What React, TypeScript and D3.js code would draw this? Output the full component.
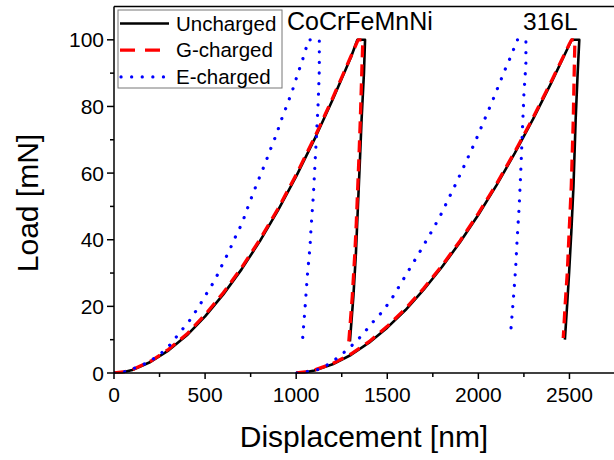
import React from "react";
import * as d3 from "d3";

// ---- Data (displacement in nm, load in mN) ----
const seriesNames = ["Uncharged", "G-charged", "E-charged"];
const seriesColors = ["#000000", "#ff0000", "#0000ff"];
const materialLabels = ["CoCrFeMnNi", "316L"];
const xTickValues = [0, 500, 1000, 1500, 2000, 2500];
const yTickValues = [0, 20, 40, 60, 80, 100];

// Uncharged – CoCrFeMnNi
const unchargedCoCrDisp = [0, 50, 100, 200, 300, 400, 500, 600, 700, 800, 900, 1000, 1100, 1200, 1300, 1336, 1378, 1372, 1359, 1350, 1335, 1328, 1314, 1295];
const unchargedCoCrLoad = [0, 0.2, 0.9, 3.3, 6.8, 11.3, 17.0, 23.6, 31.1, 39.5, 48.8, 59.0, 70.1, 82.0, 94.7, 100, 100, 90, 76, 64, 45, 36, 23, 9.5];
// G-charged – CoCrFeMnNi
const gChargedCoCrDisp = [0, 50, 100, 200, 300, 400, 500, 600, 700, 800, 900, 1000, 1100, 1200, 1300, 1340, 1366, 1360, 1352, 1344, 1330, 1322, 1308, 1289];
const gChargedCoCrLoad = [0, 0.3, 1.0, 3.5, 7.1, 11.7, 17.5, 24.1, 31.6, 40.0, 49.3, 59.5, 70.6, 82.5, 95.0, 100, 100, 90, 76, 64, 45, 36, 23, 9.5];
// E-charged – CoCrFeMnNi
const eChargedCoCrDisp = [0, 60, 121, 183, 249, 307, 362, 417, 463, 509, 554, 593, 630, 666, 704, 733, 764, 797, 829, 860, 892, 920, 951, 980, 1007, 1035, 1060, 1068, 1127, 1127, 1121, 1112, 1103, 1094, 1081, 1076, 1061, 1048, 1035];
const eChargedCoCrLoad = [0, 0.4, 1.6, 3.1, 5.4, 8.4, 12.2, 15.9, 19.7, 23.9, 27.9, 32.4, 36.4, 40.8, 45.1, 49.5, 54, 58.5, 62.8, 67.3, 71.7, 76.2, 80.6, 84.9, 89.5, 94, 98.5, 100, 100, 91, 81.5, 72, 62.5, 53, 43, 38, 29, 19, 10];

// Uncharged – 316L
const uncharged316Disp = [1000, 1050, 1100, 1200, 1300, 1400, 1500, 1600, 1700, 1800, 1900, 2000, 2100, 2200, 2300, 2400, 2500, 2512, 2554, 2545, 2534, 2522, 2510, 2498, 2488, 2475];
const uncharged316Load = [0, 0.2, 0.75, 2.6, 5.4, 9.1, 13.6, 18.9, 25.0, 31.8, 39.3, 47.5, 56.4, 66.0, 76.2, 87.1, 98.6, 100, 100, 90, 76, 56, 42, 30, 21, 10];
// G-charged – 316L
const gCharged316Disp = [1000, 1050, 1100, 1200, 1300, 1400, 1500, 1600, 1700, 1800, 1900, 2000, 2100, 2200, 2300, 2400, 2500, 2512, 2530, 2526, 2521, 2510, 2498, 2488, 2477, 2466];
const gCharged316Load = [0, 0.3, 0.9, 2.8, 5.7, 9.4, 14.0, 19.3, 25.4, 32.2, 39.7, 47.9, 56.8, 66.4, 76.6, 87.5, 98.8, 100, 100, 90, 76, 56, 42, 30, 21, 10.5];
// E-charged – 316L
const eCharged316Disp = [1003, 1050, 1113, 1177, 1240, 1299, 1363, 1418, 1478, 1529, 1600, 1680, 1753, 1793, 1831, 1871, 1908, 1944, 1981, 2014, 2080, 2146, 2182, 2213, 2261, 2261, 2256, 2250, 2243, 2232, 2224, 2213, 2204, 2191, 2177];
const eCharged316Load = [0, 0.3, 0.9, 2.6, 5.1, 7.9, 11.4, 15.1, 18.7, 22.7, 29.2, 36.5, 43.4, 47.4, 51.7, 56.2, 60.5, 64.8, 69.2, 73.5, 82, 91, 95.5, 100, 100, 93, 88.5, 83.8, 74.5, 59.5, 50, 40.4, 30.9, 21.4, 11.9];

const curves = [
  { series: 0, disp: unchargedCoCrDisp, load: unchargedCoCrLoad },
  { series: 0, disp: uncharged316Disp, load: uncharged316Load },
  { series: 1, disp: gChargedCoCrDisp, load: gChargedCoCrLoad },
  { series: 1, disp: gCharged316Disp, load: gCharged316Load },
  { series: 2, disp: eChargedCoCrDisp, load: eChargedCoCrLoad },
  { series: 2, disp: eCharged316Disp, load: eCharged316Load },
];

const W = 614;
const H = 460;
const FONT = "'Liberation Sans', Arial, Helvetica, sans-serif";

const strokeStyles = [
  { width: 2.6, dash: undefined as string | undefined, cap: "butt" },
  { width: 3.3, dash: "12,7", cap: "butt" },
  { width: 3.2, dash: "0.1,10.5", cap: "round" },
];

export default function App() {
  const x = d3.scaleLinear().domain([0, 2750]).range([114, 615]);
  const y = d3.scaleLinear().domain([0, 110]).range([373, 6.5]);
  const line = d3
    .line<[number, number]>()
    .x((d) => x(d[0]))
    .y((d) => y(d[1]));

  const xMinor = d3.range(250, 2750, 500);
  const yMinor = d3.range(10, 110, 20);

  return (
    <svg
      width={W}
      height={H}
      style={{ position: "absolute", left: 0, top: 0, background: "#fff" }}
      fontFamily={FONT}
    >
      <rect x={0} y={0} width={W} height={H} fill="#fff" />
      <defs>
        <clipPath id="plotclip">
          <rect x={114} y={6.5} width={501} height={367} />
        </clipPath>
      </defs>

      {/* curves */}
      <g clipPath="url(#plotclip)" fill="none">
        {curves.map((c, i) => {
          const st = strokeStyles[c.series];
          const pts = c.disp.map((d, k) => [d, c.load[k]] as [number, number]);
          return (
            <path
              key={i}
              d={line(pts) || ""}
              stroke={seriesColors[c.series]}
              strokeWidth={st.width}
              strokeDasharray={st.dash}
              strokeLinecap={st.cap as any}
              strokeLinejoin="round"
            />
          );
        })}
      </g>

      {/* axes frame */}
      <line x1={114} x2={615} y1={y(0)} y2={y(0)} stroke="#000" strokeWidth={1.5} />
      <line x1={114} x2={114} y1={6.5} y2={y(0)} stroke="#000" strokeWidth={1.5} />
      <line x1={114} x2={615} y1={6.5} y2={6.5} stroke="#000" strokeWidth={1.5} />

      {/* x ticks */}
      {xTickValues.map((t) => (
        <g key={"xt" + t}>
          <line x1={x(t)} x2={x(t)} y1={y(0)} y2={y(0) + 6} stroke="#000" strokeWidth={1.5} />
          <text x={x(t)} y={402} fontSize={21} textAnchor="middle" fill="#000">
            {t}
          </text>
        </g>
      ))}
      {xMinor.map((t) => (
        <line key={"xm" + t} x1={x(t)} x2={x(t)} y1={y(0)} y2={y(0) + 4} stroke="#000" strokeWidth={1.5} />
      ))}

      {/* y ticks */}
      {yTickValues.map((t) => (
        <g key={"yt" + t}>
          <line x1={107} x2={114} y1={y(t)} y2={y(t)} stroke="#000" strokeWidth={1.5} />
          <text x={104} y={y(t) + 7.5} fontSize={21} textAnchor="end" fill="#000">
            {t}
          </text>
        </g>
      ))}
      {yMinor.map((t) => (
        <line key={"ym" + t} x1={110} x2={114} y1={y(t)} y2={y(t)} stroke="#000" strokeWidth={1.5} />
      ))}

      {/* axis labels */}
      <text x={364} y={447} fontSize={30} textAnchor="middle" fill="#000">
        Displacement [nm]
      </text>
      <text
        transform={`translate(38,203) rotate(-90)`}
        fontSize={30}
        textAnchor="middle"
        fill="#000"
      >
        Load [mN]
      </text>

      {/* material labels */}
      <text x={287} y={30} fontSize={25} fill="#000">
        {materialLabels[0]}
      </text>
      <text x={523} y={30} fontSize={24.5} fill="#000">
        {materialLabels[1]}
      </text>

      {/* legend */}
      <rect x={118} y={10} width={164} height={78} fill="#fff" stroke="#777" strokeWidth={1} />
      {seriesNames.map((name, i) => {
        const st = strokeStyles[i];
        const ly = 23.5 + i * 26.7;
        return (
          <g key={name}>
            <line
              x1={i === 2 ? 121 : 120}
              x2={169}
              y1={ly}
              y2={ly}
              stroke={seriesColors[i]}
              strokeWidth={st.width}
              strokeDasharray={i === 1 ? "15,10" : st.dash}
              strokeLinecap={st.cap as any}
            />
            <text x={176} y={ly + 7} fontSize={20.5} fill="#000">
              {name}
            </text>
          </g>
        );
      })}
    </svg>
  );
}
